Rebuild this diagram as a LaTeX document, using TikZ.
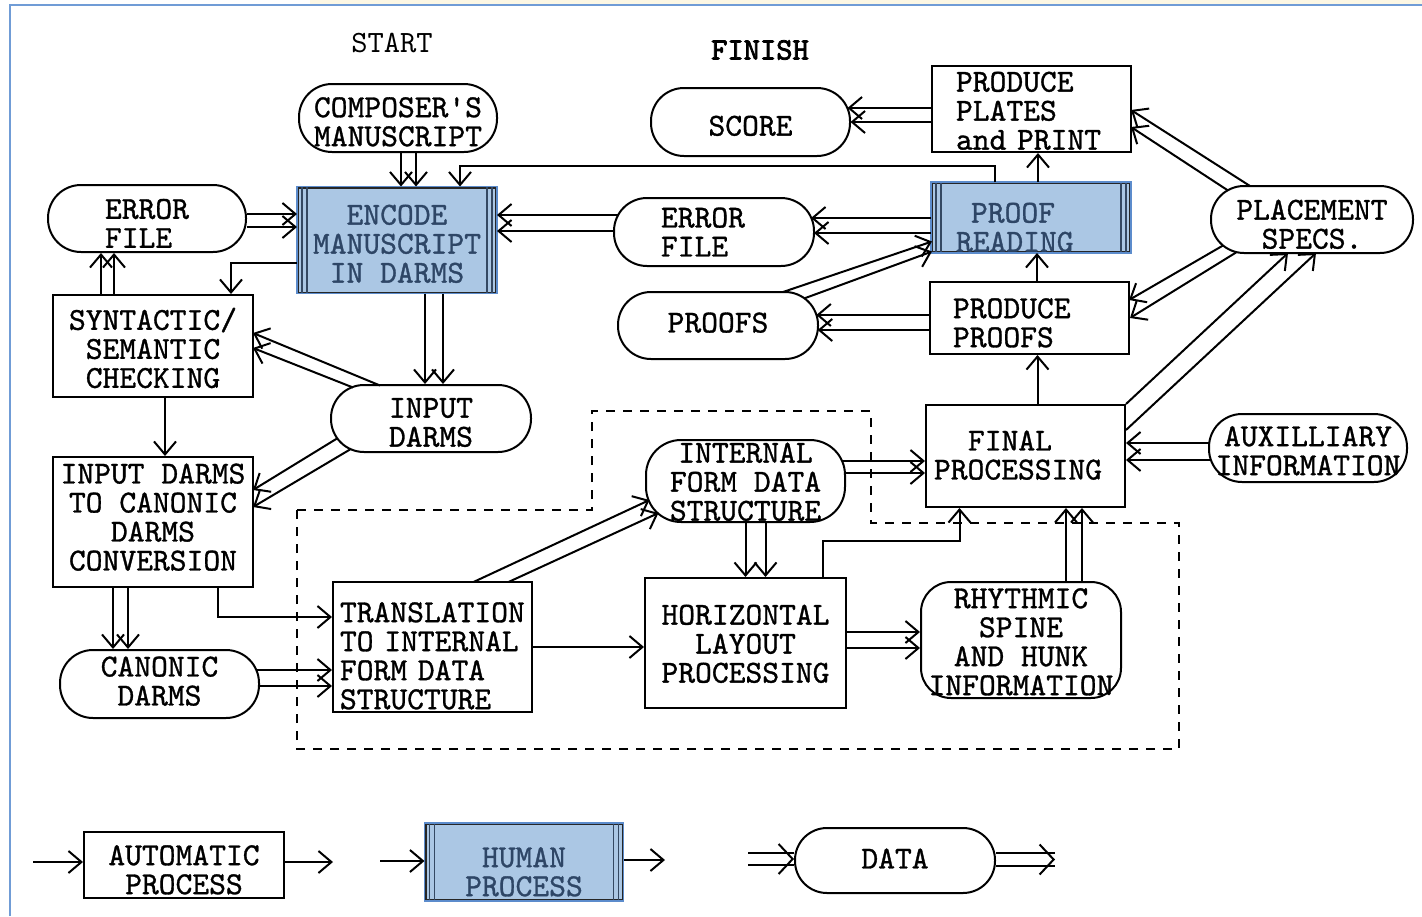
\documentclass[tikz,border=0pt]{standalone}
\usepackage{fontspec}
\newfontfamily\tw{lmmono10-regular.otf}[FakeBold=1]
\newfontfamily\twheavy{lmmono10-regular.otf}[FakeBold=2.5]
\newfontfamily\twlight{lmmono10-regular.otf}
\usetikzlibrary{arrows.meta}

\definecolor{humanfill}{RGB}{171,199,228}
\definecolor{humanedge}{RGB}{92,140,204}
\definecolor{humantext}{RGB}{46,70,102}
\definecolor{humanbar}{RGB}{52,72,98}
\definecolor{framecol}{RGB}{112,156,214}
\definecolor{topband}{RGB}{252,247,228}

% invisible struts that push a text block down (taller first line) or up (deeper last line)
\newcommand\txtdown[1]{\rule{0pt}{\dimexpr 19.6pt+#1pt*2\relax}}
\newcommand\txtup[1]{\rule[\dimexpr -#1pt*2\relax]{0pt}{0pt}}

\tikzset{
  every node/.style={font=\tw\fontsize{32}{29}\selectfont, inner sep=0pt, align=center},
  proc/.style={draw, line width=2pt, rectangle, fill=white},
  datum/.style={draw, line width=2pt, rectangle, rounded corners=#1, fill=white},
  datum/.default=33pt,
  human/.style={draw=black!85, line width=2pt, rectangle, fill=humanfill, text=humantext},
  sz/.style 2 args={minimum width=#1pt, minimum height=#2pt},
  arr/.style={line width=2pt, -{Straight Barb[length=13pt,width=22pt]}},
  dtip/.style={line width=2pt, -{Straight Barb[length=14pt,width=30pt]}},
  wire/.style={line width=2pt},
  bar/.style={humanbar, line width=1.2pt},
  zone/.style={line width=1.8pt, dash pattern=on 9pt off 8pt},
  caption/.style={font=\twlight\fontsize{31}{29}\selectfont},
  captionbold/.style={font=\twheavy\fontsize{31}{29}\selectfont},
}

% double vertical rules and blue frame marking a human process box
\newcommand\humanbars[1]{%
  \foreach \dx in {5pt,10pt} {
    \draw[bar] ([xshift=\dx]#1.north west) -- ([xshift=\dx]#1.south west);
    \draw[bar] ([xshift=-\dx]#1.north east) -- ([xshift=-\dx]#1.south east);
  }
  \draw[humanedge, line width=1.6pt] (#1.north west) rectangle (#1.south east);
}

\begin{document}
\begin{tikzpicture}[x=1pt,y=-1pt]
\useasboundingbox (0,0) rectangle (1422,916);
\fill[white] (0,0) rectangle (1422,916);
\fill[topband] (310,0) rectangle (1422,4);
\draw[framecol, line width=2pt] (10,916) -- (10,5) -- (1422,5);

% automatic part of the system
\draw[zone] (297,510) -- (592,510) -- (592,411) -- (871,411) -- (871,523)
  -- (1179,523) -- (1179,749) -- (297,749) -- cycle;

\node[caption] (start) at (392,43) {START};
\node[captionbold] (finish) at (760,50) {FINISH};

% nodes
\node[datum, sz={198}{68}] (comp) at (398,118) {\txtdown{4}COMPOSER\textquotesingle S\\MANUSCRIPT};
\node[datum, sz={198}{67}, align=left, text width=84pt, inner xsep=57pt] (err1) at (147,218.5) {\txtdown{5}ERROR\\FILE};
\node[human, sz={198}{105}] (enc) at (397,240) {\txtdown{4}ENCODE\\MANUSCRIPT\\IN DARMS};
\node[proc, sz={200}{102}] (syn) at (153,346) {\rule{0pt}{26pt}SYNTACTIC/\\SEMANTIC\\CHECKING};
\node[datum, sz={200}{67}] (ind) at (431,418.5) {\txtdown{4}INPUT\\DARMS};
\node[proc, sz={200}{130}] (conv) at (153,522) {INPUT DARMS\\TO CANONIC\\DARMS\\CONVERSION\txtup{5}};
\node[datum, sz={199}{68}] (can) at (159.5,684) {CANONIC\\DARMS\txtup{3}};
\node[proc, sz={199}{130}, align=left, text width=185pt, inner xsep=7pt] (trans) at (432.5,647) {\txtdown{9}TRANSLATION\\TO INTERNAL\\FORM DATA\\STRUCTURE};
\node[datum=35pt, sz={199}{82}] (ifds) at (745.5,481) {\txtdown{1}INTERNAL\\FORM DATA\\STRUCTURE};
\node[proc, sz={201}{130}] (hlp) at (745.5,643) {\txtdown{1}HORIZONTAL\\LAYOUT\\PROCESSING};
\node[datum=30pt, sz={200}{116}] (rhy) at (1021,640) {\txtdown{2}RHYTHMIC\\SPINE\\AND HUNK\\INFORMATION};
\node[proc, sz={199}{102}, align=left, text width=183pt, inner xsep=8pt] (fin) at (1025.5,456) {\hspace*{34pt}FINAL\\PROCESSING\txtup{1}};
\node[datum, sz={198}{68}] (aux) at (1308,448) {\txtdown{3}AUXILLIARY\\INFORMATION};
\node[proc, sz={199}{72}, align=left, text width=153pt, inner xsep=23pt] (pp) at (1029.5,318) {\txtdown{5}PRODUCE\\PROOFS};
\node[datum, sz={200}{67}] (proofs) at (718,325.5) {PROOFS\txtup{3}};
\node[datum, sz={200}{68}, align=left, text width=106pt, inner xsep=47pt] (err2) at (714,232) {ERROR\\FILE};
\node[human, sz={198}{69}, align=left, text width=150pt, inner xsep=24pt] (pr) at (1031,217.5) {\txtdown{10}\hspace*{15pt}PROOF\\READING};
\node[proc, sz={199}{86}, align=left, text width=151pt, inner xsep=24pt] (ppp) at (1031.5,109) {\txtdown{2}PRODUCE\\PLATES\\and PRINT};
\node[datum, sz={199}{68}] (score) at (750.5,122) {\txtdown{4}SCORE};
\node[datum, sz={202}{67}] (place) at (1312,219.5) {\txtdown{5}PLACEMENT\\SPECS.};

\humanbars{enc}
\humanbars{pr}

% connectors: data flows are double lines
\draw[arr] ([xshift=3pt]comp.south) -- ([xshift=3pt]comp.south |- enc.north);
\draw[arr] ([xshift=18pt]comp.south) -- ([xshift=18pt]comp.south |- enc.north);

\draw[arr] ([yshift=4.5pt]err1.east) -- ([yshift=4.5pt]err1.east -| enc.west);
\draw[arr] ([yshift=-8.5pt]err1.east) -- ([yshift=-8.5pt]err1.east -| enc.west);

\draw[arr] ([xshift=-52pt]syn.north) -- ([xshift=-52pt]syn.north |- err1.south);
\draw[arr] ([xshift=-39pt]syn.north) -- ([xshift=-39pt]syn.north |- err1.south);

\draw[arr] ([yshift=-23pt]enc.west) -| ([xshift=78pt]syn.north);

\draw[arr] ([xshift=28pt]enc.south) -- ([xshift=28pt]enc.south |- ind.north);
\draw[arr] ([xshift=46pt]enc.south) -- ([xshift=46pt]enc.south |- ind.north);

\draw[arr] ([shift={(-51,-33)}]ind.center) -- ([shift={(100,-13)}]syn.center);
\draw[arr] ([shift={(-78,-31)}]ind.center) -- ([shift={(100,2)}]syn.center);

\draw[arr] ([xshift=12pt]syn.south) -- ([xshift=12pt]syn.south |- conv.north);

\draw[arr] ([shift={(-94,20)}]ind.center) -- ([shift={(100,-32)}]conv.center);
\draw[arr] ([shift={(-81,31)}]ind.center) -- ([shift={(100,-15)}]conv.center);

\draw[arr] ([xshift=-40pt]conv.south) -- ([xshift=-40pt]conv.south |- can.north);
\draw[arr] ([xshift=-25pt]conv.south) -- ([xshift=-25pt]conv.south |- can.north);

\draw[arr] ([xshift=65pt]conv.south) |- ([yshift=30pt]trans.west);

\draw[arr] ([shift={(97,-14)}]can.center) -- ([yshift=14pt]can.center -| trans.west);
\draw[arr] ([shift={(100,2)}]can.center) -- ([yshift=-2pt]can.center -| trans.west);

\draw[arr] ([shift={(41,-65)}]trans.center) -- ([shift={(-96,19)}]ifds.center);
\draw[arr] ([shift={(76,-65)}]trans.center) -- ([shift={(-87,32)}]ifds.center);

\draw[arr] (trans.east) -- (trans.east -| hlp.west);

\draw[arr] (ifds.south) -- (ifds.south |- hlp.north);
\draw[arr] ([xshift=20pt]ifds.south) -- ([xshift=20pt]ifds.south |- hlp.north);

\draw[arr] ([shift={(97,-20)}]ifds.center) -- ([yshift=20pt]ifds.center -| fin.west);
\draw[arr] ([shift={(100,-8)}]ifds.center) -- ([yshift=8pt]ifds.center -| fin.west);

\draw[arr] ([xshift=77pt]hlp.north) -- ++(0,-36) -| ([xshift=-66pt]fin.south);

\draw[arr] ([yshift=11pt]hlp.east) -- ([yshift=11pt]hlp.east -| rhy.west);
\draw[arr] ([yshift=-5pt]hlp.east) -- ([yshift=-5pt]hlp.east -| rhy.west);

\draw[arr] ([xshift=45pt]rhy.north) -- ([xshift=45pt]rhy.north |- fin.south);
\draw[arr] ([xshift=61pt]rhy.north) -- ([xshift=61pt]rhy.north |- fin.south);

\draw[arr] ([shift={(-98.6,-5)}]aux.center) -- ([yshift=5pt]aux.center -| fin.east);
\draw[arr] ([shift={(-96.8,12)}]aux.center) -- ([yshift=-12pt]aux.center -| fin.east);

\draw[arr] (fin.north east) -- ([shift={(-24,33.5)}]place.center);
\draw[arr] ([yshift=26pt]fin.east) -- ([shift={(4,33.5)}]place.center);

\draw[arr] ([xshift=12pt]fin.north) -- ([xshift=12pt]fin.north |- pp.south);

\draw[arr] ([shift={(-89,26)}]place.center) -- ([shift={(99.5,-18)}]pp.center);
\draw[arr] ([shift={(-76,33)}]place.center) -- (pp.east);

\draw[arr] ([shift={(-62,-33.5)}]place.center) -- ([shift={(99.5,1)}]ppp.center);
\draw[arr] ([shift={(-84,-29)}]place.center) -- ([shift={(99.5,18)}]ppp.center);

\draw[arr] ([yshift=3pt]pp.west) -- ([shift={(98.3,-10.5)}]proofs.center);
\draw[arr] ([yshift=-12pt]pp.west) -- ([shift={(99.7,4.5)}]proofs.center);

\draw[arr] ([shift={(65,-33.5)}]proofs.center) -- ([shift={(-99,24)}]pr.center);
\draw[arr] ([shift={(86,-27)}]proofs.center) -- ([shift={(-99,34)}]pr.center);

\draw[arr] ([xshift=7.5pt]pp.north) -- ([xshift=7.5pt]pp.north |- pr.south);

\draw[arr] ([yshift=-0.5pt]pr.west) -- ([shift={(97,-14)}]err2.center);
\draw[arr] ([yshift=-15.5pt]pr.west) -- ([shift={(100,1)}]err2.center);

\draw[arr] ([shift={(-95.4,-17)}]err2.center) -- ([yshift=17pt]err2.center -| enc.east);
\draw[arr] ([shift={(-100,-1)}]err2.center) -- ([yshift=1pt]err2.center -| enc.east);

\draw[arr] ([xshift=7pt]pr.north) -- ([xshift=7pt]pr.north |- ppp.south);

\draw[arr] ([xshift=-36pt]pr.north) -- ++(0,-16) -| ([xshift=63pt]enc.north);

\draw[arr] ([yshift=1pt]ppp.west) -- ([shift={(97,-14)}]score.center);
\draw[arr] ([yshift=-13pt]ppp.west) -- ([shift={(100,0)}]score.center);

% key
\node[proc, sz={200}{66}] (auto) at (184,865) {\txtdown{5}AUTOMATIC\\PROCESS};
\node[human, sz={197}{76}] (hum) at (524,862) {\txtdown{10}HUMAN\\PROCESS};
\humanbars{hum}
\node[datum=32pt, sz={200}{65}] (dat) at (895,860.5) {DATA\txtup{2}};

\coordinate (ain) at (33,862);
\coordinate (aout) at (333,862);
\draw[arr] (ain) -- (ain -| auto.west);
\draw[arr] (aout -| auto.east) -- (aout);

\coordinate (hin) at (380,861);
\coordinate (hout) at (665,860);
\draw[arr] (hin) -- (hin -| hum.west);
\draw[arr] (hout -| hum.east) -- (hout);

\coordinate (din) at (748,859);
\draw[wire] ([yshift=6pt]din) -- ([yshift=6pt]din -| dat.west);
\draw[wire] ([yshift=-6pt]din) -- ([yshift=-6pt]din -| dat.west);
\draw[dtip] ([xshift=-2pt]din -| dat.west) -- (din -| dat.west);

\coordinate (dout) at (1055,859.5);
\draw[wire] ([yshift=6.5pt]dout -| dat.east) -- ([yshift=6.5pt]dout);
\draw[wire] ([yshift=-6.5pt]dout -| dat.east) -- ([yshift=-6.5pt]dout);
\draw[dtip] ([xshift=-2pt]dout) -- (dout);
\end{tikzpicture}
\end{document}
